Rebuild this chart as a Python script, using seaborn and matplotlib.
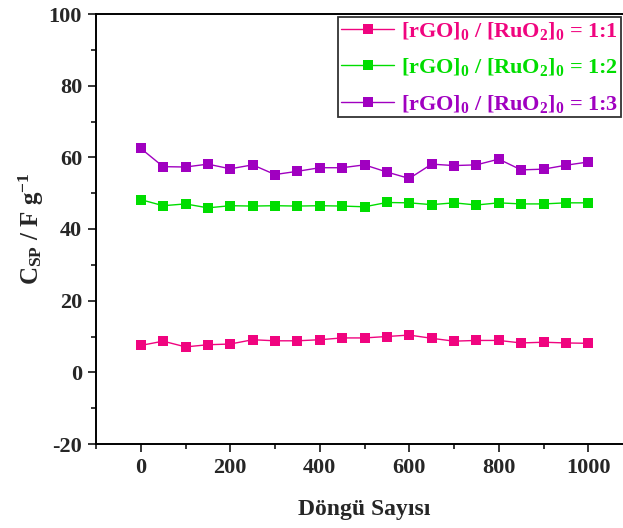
import numpy as np
import pandas as pd
import matplotlib
matplotlib.use("Agg")
import matplotlib.pyplot as plt
import seaborn as sns
from matplotlib.lines import Line2D
from matplotlib.ticker import MultipleLocator

cycles = [0, 50, 100, 150, 200, 250, 300, 350, 400, 450, 500, 550, 600, 650, 700, 750, 800, 850, 900, 950, 1000]
ratio_11 = [7.5, 8.7, 7.1, 7.7, 7.9, 9.1, 8.8, 8.8, 9.1, 9.6, 9.6, 10.0, 10.4, 9.5, 8.7, 8.9, 8.9, 8.2, 8.4, 8.2, 8.1]
ratio_12 = [48.2, 46.5, 47.0, 45.9, 46.5, 46.4, 46.5, 46.4, 46.5, 46.4, 46.2, 47.4, 47.3, 46.8, 47.3, 46.7, 47.3, 47.0, 47.0, 47.3, 47.3]
ratio_13 = [62.5, 57.4, 57.3, 58.1, 56.8, 57.9, 55.2, 56.1, 57.1, 57.1, 57.9, 55.9, 54.1, 58.1, 57.7, 57.9, 59.5, 56.5, 56.7, 57.8, 58.7]
series_names = ["1:1", "1:2", "1:3"]
colors = ["#F0047F", "#00DD00", "#A000C0"]

df = pd.concat([
    pd.DataFrame({"cycle": cycles, "csp": vals, "ratio": name})
    for name, vals in zip(series_names, [ratio_11, ratio_12, ratio_13])
])

sns.set_theme(style="white")
plt.rcParams["font.family"] = ["Liberation Serif", "DejaVu Serif"]
plt.rcParams["font.weight"] = "bold"
plt.rcParams["axes.unicode_minus"] = False
plt.rcParams["mathtext.fontset"] = "custom"
plt.rcParams["mathtext.rm"] = "Liberation Serif:bold"
plt.rcParams["mathtext.it"] = "Liberation Serif:bold"
plt.rcParams["mathtext.bf"] = "Liberation Serif:bold"

fig = plt.figure(figsize=(6.23, 5.28), dpi=100)
ax = fig.add_axes([96 / 623, (528 - 444) / 528, 537 / 623, 430 / 528])

sns.lineplot(data=df, x="cycle", y="csp", hue="ratio", palette=colors,
             marker="s", markersize=7, markeredgewidth=0, linewidth=1,
             dashes=False, ax=ax, legend=False)

ax.set_xlim(-100, 1100)
ax.set_ylim(-20, 100)
ax.xaxis.set_major_locator(MultipleLocator(200))
ax.xaxis.set_minor_locator(MultipleLocator(100))
ax.yaxis.set_major_locator(MultipleLocator(20))
ax.yaxis.set_minor_locator(MultipleLocator(10))
ax.tick_params(axis="both", which="major", direction="out", length=6, width=1.3,
               labelsize=16, bottom=True, left=True, top=False, right=False, pad=4)
ax.tick_params(axis="both", which="minor", direction="out", length=3.5, width=1.3,
               bottom=True, left=True, top=False, right=False)
for lab in ax.get_xticklabels() + ax.get_yticklabels():
    lab.set_fontweight("bold")
for sp in ax.spines.values():
    sp.set_linewidth(1.4)
    sp.set_color("black")
ax.grid(False)

ax.set_xlabel("Döngü Sayısı", fontsize=17, fontweight="bold", labelpad=15)
ax.set_ylabel(r"C$_{SP}$ / F g$^{-1}$", fontsize=18, fontweight="bold", labelpad=2)

handles = [Line2D([0], [0], color=c, marker="s", markersize=7, markeredgewidth=0, linewidth=1)
           for c in colors]
labels = [r"[rGO]$_0$ / [RuO$_2$]$_0$ = %s" % n for n in series_names]
leg = fig.legend(handles, labels, loc="upper right", bbox_to_anchor=(621 / 623, 1 - 17 / 528),
                 fontsize=16, frameon=True, fancybox=False, edgecolor="black",
                 handlelength=2.4, handletextpad=0.3, borderpad=0.12, labelspacing=0.65,
                 borderaxespad=0)
leg.get_frame().set_linewidth(1.3)
for txt, c in zip(leg.get_texts(), colors):
    txt.set_color(c)
    txt.set_fontweight("bold")

fig.savefig("out.png", dpi=100)
